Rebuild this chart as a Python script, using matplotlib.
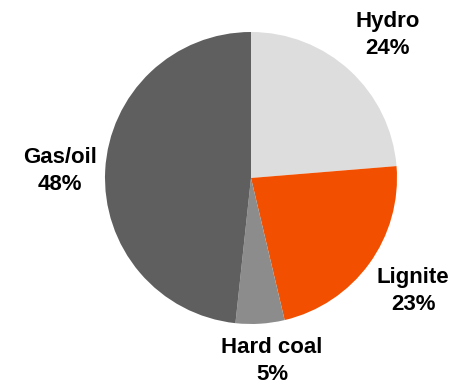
import matplotlib.pyplot as plt

# power generation mix, shares in percent
sources = ['Hydro', 'Lignite', 'Hard coal', 'Gas/oil']
shares = [23.7, 22.6, 5.4, 48.3]
colors = ['#dddddd', '#f25000', '#8c8c8c', '#5f5f5f']

# label anchors in pixel coordinates (origin bottom-left)
label_xy = [(388, 351), (413, 95), (272, 25), (60, 215)]

plt.rcParams['font.family'] = ['Liberation Sans', 'DejaVu Sans']

fig = plt.figure(figsize=(4.55, 3.86), dpi=100)
ax = fig.add_axes([0, 0, 1, 1])

ax.pie(shares, colors=colors, startangle=90, counterclock=False,
       center=(251, 208), radius=146, frame=True,
       wedgeprops=dict(linewidth=0))
ax.set_xlim(0, 455)
ax.set_ylim(0, 386)
ax.set_aspect('equal')
ax.axis('off')

for name, val, (x, y) in zip(sources, shares, label_xy):
    ax.text(x, y, '{}\n{:.0f}%'.format(name, val), ha='center', va='center',
            fontsize=16, fontweight='bold', linespacing=1.4)

fig.savefig('out.png', dpi=100)
